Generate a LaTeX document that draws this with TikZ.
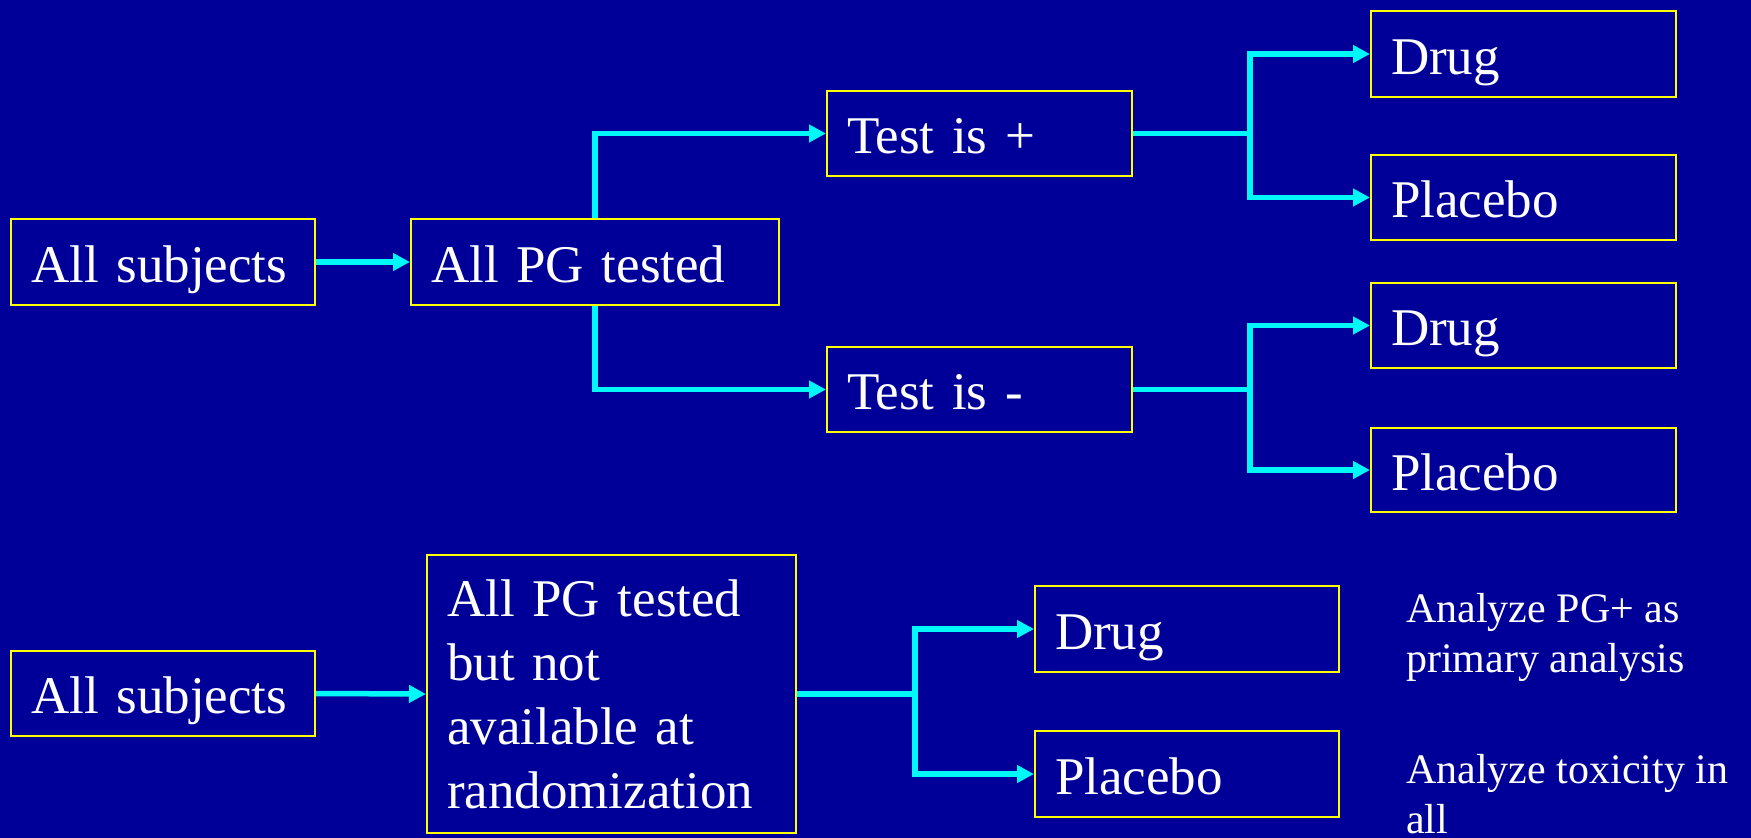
\documentclass[tikz,border=0pt]{standalone}
\usepackage{fontspec}
\setmainfont{Liberation Serif}
\usetikzlibrary{arrows.meta}
\definecolor{slidebg}{HTML}{000099}
\definecolor{boxline}{HTML}{FFFF00}
\definecolor{flow}{HTML}{00F8F8}
\newcommand{\boxfont}{\fontsize{53}{64}\selectfont}
\newcommand{\notefont}{\fontsize{42}{50}\selectfont}
\begin{document}
\begin{tikzpicture}[x=1pt,y=-1pt,
  box/.style={draw=boxline, line width=2pt, text=white, font=\boxfont,
    inner xsep=20pt, inner ysep=0pt, anchor=north west, align=left},
  oneline/.style={text height=40pt, text depth=0pt},
  note/.style={text=white, font=\notefont, inner sep=0pt, anchor=north west, align=left},
  link/.style={draw=flow, line width=5.5pt},
  arr/.style={link, -{Triangle[length=17pt,width=17pt]}}]
\fill[slidebg] (0,0) rectangle (1751,838);
\useasboundingbox (0,0) rectangle (1751,838);

% upper design: test first, then randomize within each stratum
\node[box, oneline, text width=264pt, minimum height=86pt] (all1) at (10,218) {All subjects};
\node[box, oneline, text width=328pt, minimum height=86pt] (pg1) at (410,218) {All PG tested};
\node[box, oneline, text width=265pt, minimum height=85pt] (tpos) at (826,90) {Test is +};
\node[box, oneline, text width=265pt, minimum height=85pt] (tneg) at (826,346) {Test is -};
\node[box, oneline, text width=265pt, minimum height=86pt] (d1) at (1370,10) {Drug};
\node[box, oneline, text width=265pt, minimum height=85pt] (p1) at (1370,154) {Placebo};
\node[box, oneline, text width=265pt, minimum height=85pt] (d2) at (1370,282) {Drug};
\node[box, oneline, text width=265pt, minimum height=84pt] (p2) at (1370,427) {Placebo};

\coordinate (j1) at (1250,0 |- tpos.east);
\coordinate (j2) at (1250,0 |- tneg.east);

\draw[arr] (all1.east) -- (pg1.west);
\draw[arr] (pg1.north) |- (tpos.west);
\draw[arr] (pg1.south) |- (tneg.west);
\draw[link] (tpos.east) -- (j1);
\draw[arr] (j1) |- (d1.west);
\draw[arr] (j1) |- (p1.west);
\draw[link] (tneg.east) -- (j2);
\draw[arr] (j2) |- (d2.west);
\draw[arr] (j2) |- (p2.west);

% lower design: randomize everyone, test result known later
\node[box, oneline, text width=264pt, minimum height=85pt] (all2) at (10,650) {All subjects};
\node[box, text width=329pt, minimum height=278pt] (pg2) at (426,554)
  {All PG tested\\but not\\available at\\randomization};
\node[box, oneline, text width=264pt, minimum height=86pt] (d3) at (1034,585) {Drug};
\node[box, oneline, text width=264pt, minimum height=86pt] (p3) at (1034,730) {Placebo};
\coordinate (j3) at (915,0 |- pg2.east);

\draw[arr] (all2.east) -- (pg2.west);
\draw[link] (pg2.east) -- (j3);
\draw[arr] (j3) |- (d3.west);
\draw[arr] (j3) |- (p3.west);

\node[note] (n1) at (1406,593) {Analyze PG+ as\\primary analysis};
\node[note] (n2) at (1406,754) {Analyze toxicity in\\all};
\end{tikzpicture}
\end{document}
